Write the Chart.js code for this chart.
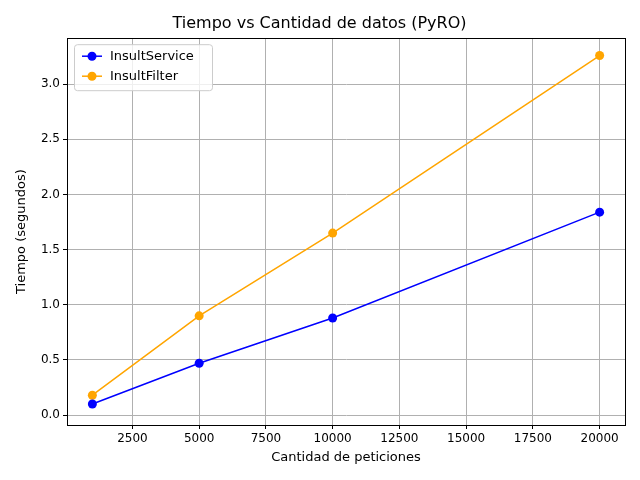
<!DOCTYPE html>
<html>
<head>
<meta charset="utf-8">
<script src="https://cdn.jsdelivr.net/npm/chart.js@4"></script>
<style>body{margin:0;background:#fff}</style>
</head>
<body>
<canvas id="c" width="640" height="480"></canvas>
<script>
var peticiones = [1000, 5000, 10000, 20000];
var insultService = [0.10, 0.47, 0.88, 1.84];
var insultFilter = [0.18, 0.90, 1.65, 3.26];
var xTicks = [2500, 5000, 7500, 10000, 12500, 15000, 17500, 20000];
var yTicks = [0, 0.5, 1.0, 1.5, 2.0, 2.5, 3.0];

function pts(ys) {
    return peticiones.map(function (x, i) { return {x: x, y: ys[i]}; });
}

var legendBox = {
    id: 'legendBox',
    afterDraw: function (chart) {
        var ctx = chart.ctx, a = chart.chartArea;
        ctx.save();
        // full frame like matplotlib
        ctx.strokeStyle = '#000';
        ctx.lineWidth = 1;
        ctx.strokeRect(Math.round(a.left) + 0.5, Math.round(a.top) + 0.5,
            Math.round(a.right - a.left), Math.round(a.bottom - a.top));
        var x = a.left + 7, y = a.top + 6;
        ctx.fillStyle = 'rgba(255,255,255,0.8)';
        ctx.strokeStyle = '#cccccc';
        ctx.beginPath();
        ctx.roundRect(x + 0.5, y + 0.5, 138, 46, 3);
        ctx.fill(); ctx.stroke();
        ctx.font = '13px "DejaVu Sans"';
        ctx.textBaseline = 'middle';
        chart.data.datasets.forEach(function (ds, i) {
            var ly = y + 12 + i * 20;
            ctx.strokeStyle = ds.borderColor;
            ctx.lineWidth = 1.5;
            ctx.beginPath(); ctx.moveTo(x + 8, ly); ctx.lineTo(x + 28, ly); ctx.stroke();
            ctx.fillStyle = ds.borderColor;
            ctx.beginPath(); ctx.arc(x + 18, ly, 4.5, 0, Math.PI * 2); ctx.fill();
            ctx.fillStyle = '#000';
            ctx.fillText(ds.label, x + 36, ly);
        });
        ctx.restore();
    }
};

new Chart(document.getElementById('c'), {
    type: 'line',
    data: {
        datasets: [{
            label: 'InsultService',
            data: pts(insultService),
            borderColor: '#0000ff',
            backgroundColor: '#0000ff',
            borderWidth: 1.5,
            pointRadius: 4.5,
            pointBorderWidth: 0
        }, {
            label: 'InsultFilter',
            data: pts(insultFilter),
            borderColor: '#ffa500',
            backgroundColor: '#ffa500',
            borderWidth: 1.5,
            pointRadius: 4.5,
            pointBorderWidth: 0
        }]
    },
    plugins: [legendBox],
    options: {
        responsive: false,
        animation: false,
        layout: {padding: {left: 14, right: 15, top: 0, bottom: 15}},
        plugins: {
            legend: {display: false},
            tooltip: {enabled: false},
            title: {
                display: true,
                text: 'Tiempo vs Cantidad de datos (PyRO)',
                color: '#000',
                font: {family: 'DejaVu Sans', size: 16, weight: 'normal'},
                padding: {top: 14, bottom: 5}
            }
        },
        scales: {
            x: {
                type: 'linear',
                min: 50, max: 20950,
                afterBuildTicks: function (s) { s.ticks = xTicks.map(function (v) { return {value: v}; }); },
                afterFit: function (s) { s.height = 40; },
                ticks: {color: '#000', font: {family: 'DejaVu Sans', size: 12}, maxRotation: 0,
                    callback: function (v) { return String(v); }},
                grid: {color: '#b0b0b0', tickColor: '#000', tickLength: 4},
                border: {color: '#000'},
                title: {display: true, text: 'Cantidad de peticiones', color: '#000',
                    font: {family: 'DejaVu Sans', size: 13}, padding: {top: 2, bottom: 0}}
            },
            y: {
                min: -0.09, max: 3.417,
                afterBuildTicks: function (s) { s.ticks = yTicks.map(function (v) { return {value: v}; }); },
                afterFit: function (s) { s.width = 53; },
                ticks: {color: '#000', font: {family: 'DejaVu Sans', size: 12},
                    callback: function (v) { return v.toFixed(1); }},
                grid: {color: '#b0b0b0', tickColor: '#000', tickLength: 4},
                border: {color: '#000'},
                title: {display: true, text: 'Tiempo (segundos)', color: '#000',
                    font: {family: 'DejaVu Sans', size: 13}, padding: {top: 0, bottom: 2}}
            }
        }
    }
});
</script>
</body>
</html>
